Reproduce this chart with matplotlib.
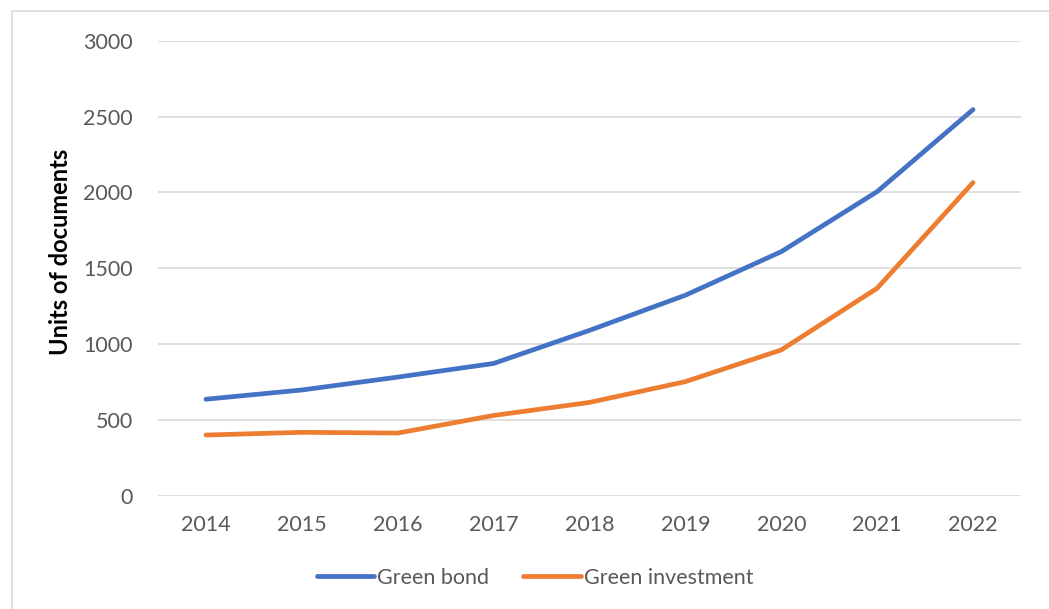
import matplotlib.pyplot as plt
from matplotlib.patches import Rectangle

plt.rcParams['font.family'] = ['Lato', 'DejaVu Sans']

years = ['2014', '2015', '2016', '2017', '2018', '2019', '2020', '2021', '2022']
green_bond = [636, 697, 782, 872, 1090, 1322, 1609, 2005, 2546]
green_investment = [400, 418, 413, 529, 615, 752, 961, 1368, 2065]
y_ticks = [0, 500, 1000, 1500, 2000, 2500, 3000]

W, H = 1049, 609
fig = plt.figure(figsize=(W / 100, H / 100), dpi=100)

# chart frame, runs off the right and bottom edges
fig.patches.append(Rectangle((12 / W, -0.1), 1.1, 1 - 11 / H + 0.1,
                             transform=fig.transFigure, fill=False,
                             edgecolor='#d9d9d9', linewidth=1.2))

ax = fig.add_axes([158 / W, 1 - 495.7 / H, (1021 - 158) / W, (495.7 - 40.7) / H])
x = range(len(years))
ax.plot(x, green_bond, color='#4472C4', linewidth=3.4, solid_capstyle='round',
        solid_joinstyle='round', label='Green bond')
ax.plot(x, green_investment, color='#ED7D31', linewidth=3.4, solid_capstyle='round',
        solid_joinstyle='round', label='Green investment')

ax.set_xlim(-0.5, len(years) - 0.5)
ax.set_ylim(0, 3000)
ax.set_xticks(list(x))
ax.set_xticklabels(years)
ax.set_yticks(y_ticks)
ax.tick_params(length=0, labelsize=15.5, labelcolor='#595959')
ax.tick_params(axis='y', pad=18)
ax.tick_params(axis='x', pad=14)
ax.grid(axis='y', color='#d9d9d9', linewidth=1.2)
ax.set_axisbelow(True)
for s in ax.spines.values():
    s.set_visible(False)

ax.set_ylabel('Units of documents', fontsize=17, fontweight='bold')
ax.yaxis.set_label_coords(-0.0995, 0.536)

fig.legend(loc='center', bbox_to_anchor=(535 / W, 1 - 578 / H), ncol=2, frameon=False,
           fontsize=15.5, labelcolor='#595959', handlelength=2.65, handletextpad=0.15,
           columnspacing=1.6)

fig.savefig('out.png', dpi=100)
